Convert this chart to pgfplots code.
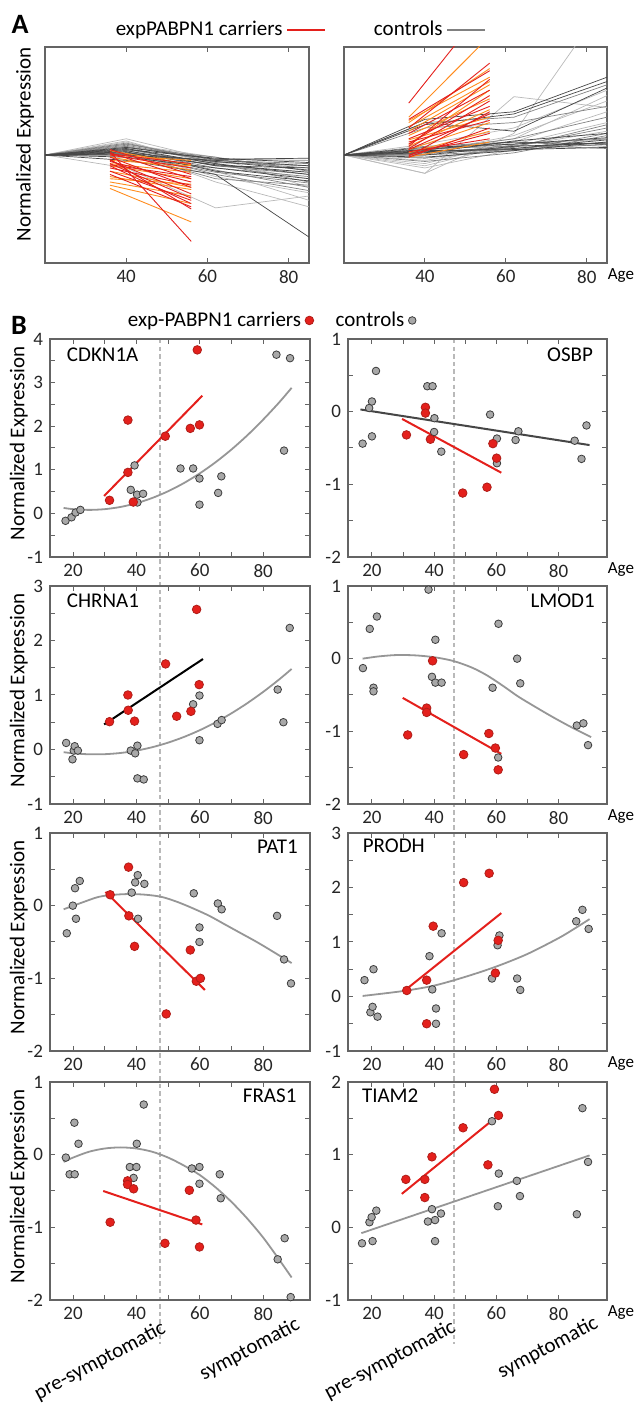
\documentclass[border=0pt]{standalone}
\usepackage{fontspec}
\setmainfont{Carlito}
\usepackage{pgfplots}
\usepackage{pgfplotstable}
\pgfplotsset{compat=1.18}

\definecolor{carrier}{RGB}{228,32,28}
\definecolor{carrieredge}{RGB}{175,30,25}
\definecolor{orng}{RGB}{255,140,30}
\definecolor{ctrl}{RGB}{168,168,168}
\definecolor{ctrledge}{RGB}{60,60,60}
\definecolor{fitgray}{RGB}{150,150,150}
\definecolor{axgray}{RGB}{100,100,100}
\definecolor{dashgray}{RGB}{185,185,185}
\definecolor{glight}{RGB}{185,185,185}
\definecolor{gmid}{RGB}{130,130,130}
\definecolor{gdark}{RGB}{70,70,70}

\newcommand{\tickfont}{\fontsize{9.5}{11}\selectfont}
\newcommand{\labfont}{\fontsize{10.5}{12}\selectfont}
\newcommand{\agefont}{\fontsize{8.5}{10}\selectfont}

\pgfplotsset{
  base/.style={scale only axis,
    axis line style={axgray, line width=0.65pt},
    tick style={axgray, line width=0.5pt},
    tick align=inside, major tick length=2.5pt, minor tick length=2.5pt,
    tick label style={font=\tickfont, text=black!85},
    /pgf/number format/assume math mode=true,
    label style={font=\labfont}},
  agelabel/.style={xlabel={Age},
    xlabel style={at={(axis description cs:1,0)}, anchor=north west,
      inner sep=0.2pt, yshift=-2.6pt, font=\agefont}},
  apanel/.style={base, width=132pt, height=108pt,
    xmin=20, xmax=85, ymin=-1, ymax=1, xtick={40,60,80}, ytick=\empty},
  bpanel/.style={base, width=130pt, height=109pt, clip=false,
    xtick={20,40,60,80}, minor x tick num=1, minor y tick num=1},
  bleft/.style={bpanel, xmin=12.7, xmax=94.8, ylabel={Normalized Expression},
    ylabel style={at={(axis description cs:-0.12,0.52)}, anchor=center}},
  bright/.style={bpanel, width=129.5pt, xmin=12.3, xmax=95.6, agelabel},
  ctrlpts/.style={only marks, mark=*, mark size=1.9pt,
    mark options={fill=ctrl, draw=ctrledge, line width=0.4pt}},
  carpts/.style={only marks, mark=*, mark size=2.15pt,
    mark options={fill=carrier, draw=carrieredge, line width=0.4pt}},
  redfit/.style={carrier, line width=1pt, no markers},
  grayfit/.style={fitgray, line width=0.9pt, no markers, smooth},
  ctl/.style={line width=0.35pt, no markers, forget plot},
}

% ---- panel A, left: controls (x = age) and carriers
\pgfplotstableread{
x  y1    y2    y3    y4    y5    y6    y7    y8
20 0     0     0     0     0     0     0     0
40 0.15  0.12  0.10  -0.12 0.08  0.05  0.13  0.03
62 -0.05 -0.08 -0.02 -0.49 -0.15 -0.25 -0.10 -0.20
85 -0.10 -0.22 -0.30 -0.38 -0.42 -0.48 -0.16 -0.35
}\ALlight
\pgfplotstableread{
x  y1    y2    y3    y4    y5    y6    y7    y8    y9    y10   y11   y12
20 0     0     0     0     0     0     0     0     0     0     0     0
40 0.10  0.08  0.06  0.05  0.04  0.02  0.09  0.00  0.07  0.03  0.11  0.01
62 -0.04 -0.06 -0.10 -0.08 -0.12 -0.14 -0.05 -0.16 -0.02 -0.18 -0.07 -0.22
85 -0.05 -0.12 -0.18 -0.25 -0.20 -0.30 -0.08 -0.26 -0.15 -0.33 -0.10 -0.28
}\ALmid
\pgfplotstableread{
x  y1    y2    y3    y4    y5    y6    y7    y8    y9    y10
20 0     0     0     0     0     0     0     0     0     0
40 0.05  0.02  0.04  -0.02 0.06  0.00  0.03  -0.05 0.01  0.07
62 -0.03 -0.06 -0.10 -0.12 -0.08 -0.05 -0.15 -0.18 -0.09 -0.04
85 -0.07 -0.14 -0.12 -0.22 -0.18 -0.10 -0.24 -0.76 -0.16 -0.03
}\ALdark
\pgfplotstableread{
x  y1    y2    y3    y4    y5    y6    y7    y8    y9    y10   y11   y12   y13   y14   y15
36 0.05  0.02  -0.02 0.00  -0.05 -0.08 0.03  -0.10 -0.12 -0.04 0.01  -0.15 -0.06 -0.18 -0.09
56 -0.18 -0.22 -0.30 -0.12 -0.36 -0.40 -0.80 -0.45 -0.28 -0.50 -0.08 -0.42 -0.25 -0.48 -0.20
}\ALred
\pgfplotstableread{
x  y1    y2    y3    y4    y5    y6    y7    y8    y9    y10   y11   y12
36 0.00  -0.02 -0.20 -0.25 -0.31 -0.05 -0.10 -0.15 -0.28 -0.08 -0.22 0.04
56 -0.05 -0.14 -0.32 -0.38 -0.62 -0.10 -0.22 -0.30 -0.45 -0.16 -0.27 -0.09
}\ALorng

% ---- panel A, right
\pgfplotstableread{
x  y1    y2    y3    y4    y5    y6    y7    y8    y9
20 0     0     0     0     0     0     0     0     0
40 -0.17 -0.17 -0.10 0.05  -0.05 0.10  -0.08 0.02  -0.12
62 0.20  0.54  0.10  0.15  0.08  0.25  0.12  0.18  0.05
85 1.43  0.44  0.30  0.55  0.22  0.60  0.40  0.50  0.15
}\ARlight
\pgfplotstableread{
x  y1    y2    y3    y4    y5    y6    y7    y8    y9    y10   y11   y12
20 0     0     0     0     0     0     0     0     0     0     0     0
40 0.02  0.05  -0.03 0.08  0.00  0.30  0.04  -0.06 0.06  0.25  0.01  0.03
62 0.05  0.10  0.06  0.12  0.04  0.35  0.15  0.02  0.08  0.30  0.09  0.07
85 0.10  0.15  0.12  0.08  0.20  0.65  0.35  0.18  0.25  0.45  0.06  0.28
}\ARmid
\pgfplotstableread{
x  y1    y2    y3    y4    y5    y6    y7    y8    y9    y10
20 0     0     0     0     0     0     0     0     0     0
40 0.33  0.28  0.03  0.05  -0.02 0.07  0.00  0.04  0.30  0.02
62 0.40  0.38  0.06  0.12  0.04  0.10  0.08  0.05  0.22  0.13
85 0.72  0.68  0.14  0.10  0.12  0.16  0.11  0.07  0.62  0.20
}\ARdark
\pgfplotstableread{
x  y1    y2    y3    y4    y5    y6    y7    y8    y9    y10   y11   y12   y13   y14
36 0.48  0.33  0.10  0.05  0.00  0.15  -0.02 0.08  0.20  0.03  0.12  -0.01 0.25  0.06
56 1.42  0.78  0.55  0.38  0.20  0.45  0.25  0.70  0.60  0.15  0.32  0.40  0.85  0.50
}\ARred
\pgfplotstableread{
x  y1    y2    y3    y4    y5    y6    y7    y8    y9    y10   y11   y12
36 0.35  0.32  0.10  0.30  0.05  0.18  0.02  -0.02 0.22  0.08  0.14  0.26
56 1.10  0.72  0.60  0.80  0.30  0.52  0.22  0.12  0.65  0.42  0.35  0.68
}\ARorng

\begin{document}
\begin{tikzpicture}
\path[use as bounding box] (0pt,0pt) rectangle (317pt,703pt);

% onset line (age ~47) through column B
\draw[dashgray, line width=0.6pt, dash pattern=on 2.2pt off 1.6pt] (80pt,533.5pt) -- (80pt,31pt);
\draw[dashgray, line width=0.6pt, dash pattern=on 2.2pt off 1.6pt] (227pt,533.5pt) -- (227pt,31pt);

\node[font=\bfseries\fontsize{14}{16}\selectfont] at (10pt,691pt) {A};
\node[font=\bfseries\fontsize{14}{16}\selectfont] at (9.5pt,540.5pt) {B};

% ================= A left
\begin{axis}[apanel, at={(22.5pt,571.5pt)},
  ylabel={Normalized Expression},
  ylabel style={at={(axis description cs:-0.076,0.55)}, anchor=center},
  legend style={at={(0.962,1.079)}, anchor=center, draw=none, fill=none,
    legend columns=2, font=\labfont},
  legend plot pos=right,
  legend image code/.code={\draw[#1] (0pt,0pt) -- (19pt,0pt);}]
\addlegendimage{carrier, line width=0.7pt}
\addlegendentry{expPABPN1 carriers}
\addlegendimage{gray, line width=0.7pt}
\addlegendentry{\hspace*{22pt}controls}
\pgfplotsinvokeforeach{1,...,8}{\addplot[ctl, glight] table[x=x,y=y#1]{\ALlight};}
\pgfplotsinvokeforeach{1,...,12}{\addplot[ctl, gmid] table[x=x,y=y#1]{\ALmid};}
\pgfplotsinvokeforeach{1,...,10}{\addplot[ctl, gdark] table[x=x,y=y#1]{\ALdark};}
\pgfplotsinvokeforeach{1,...,12}{\addplot[ctl, orng, line width=0.45pt] table[x=x,y=y#1]{\ALorng};}
\pgfplotsinvokeforeach{1,...,15}{\addplot[ctl, carrier, line width=0.45pt] table[x=x,y=y#1]{\ALred};}
\end{axis}

% ================= A right
\begin{axis}[apanel, at={(172pt,571.5pt)}, width=131.5pt, agelabel]
\pgfplotsinvokeforeach{1,...,9}{\addplot[ctl, glight] table[x=x,y=y#1]{\ARlight};}
\pgfplotsinvokeforeach{1,...,12}{\addplot[ctl, gmid] table[x=x,y=y#1]{\ARmid};}
\pgfplotsinvokeforeach{1,...,10}{\addplot[ctl, gdark] table[x=x,y=y#1]{\ARdark};}
\pgfplotsinvokeforeach{1,...,12}{\addplot[ctl, orng, line width=0.45pt] table[x=x,y=y#1]{\ARorng};}
\pgfplotsinvokeforeach{1,...,14}{\addplot[ctl, carrier, line width=0.45pt] table[x=x,y=y#1]{\ARred};}
\end{axis}

% ================= CDKN1A
\begin{axis}[bleft, at={(25pt,424.5pt)}, ymin=-1, ymax=4, ytick={-1,0,...,4},
  legend style={at={(0.846,1.085)}, anchor=center, draw=none, fill=none,
    legend columns=2, font=\labfont},
  legend plot pos=right,
  legend image code/.code={\draw[#1] plot coordinates {(3pt,0pt)};}]
\addlegendimage{carpts}
\addlegendentry{exp-PABPN1 carriers}
\addlegendimage{ctrlpts}
\addlegendentry{\hspace*{9pt}controls}
\addplot[grayfit, forget plot] coordinates {(17,0.125)(20,0.097)(25,0.08)(30,0.097)(35,0.148)(40,0.234)(45,0.354)(50,0.508)(55,0.696)(60,0.918)(65,1.174)(70,1.465)(75,1.79)(80,2.15)(85,2.54)(89,2.88)};
\addplot[redfit, forget plot] coordinates {(29.8,0.40)(60.8,2.70)};
\addplot[ctrlpts, forget plot] coordinates {(17.6,-0.17)(19.5,-0.09)(20.8,0.02)(22.3,0.08)(38.2,0.54)(39.4,1.10)(40.2,0.43)(40.3,0.25)(42.1,0.45)(53.9,1.03)(57.9,1.03)(59.9,0.80)(59.9,0.20)(65.8,0.47)(66.8,0.85)(84.2,3.64)(86.6,1.44)(88.5,3.56)};
\addplot[carpts, forget plot] coordinates {(31.5,0.30)(37.3,2.14)(37.3,0.94)(39.0,0.26)(49.1,1.77)(57.0,1.95)(59.2,3.75)(59.9,2.03)};
\node[anchor=west, font=\labfont] at (rel axis cs:0.038,0.927) {CDKN1A};
\end{axis}

% ================= OSBP
\begin{axis}[bright, at={(174pt,424.5pt)}, ymin=-2, ymax=1, ytick={-2,-1,0,1}]
\addplot[gdark, line width=1pt, no markers] coordinates {(16.3,0.03)(90,-0.46)};
\addplot[redfit] coordinates {(29.7,-0.10)(61.6,-0.84)};
\addplot[ctrlpts] coordinates {(17.0,-0.44)(19.1,0.05)(20.0,0.14)(20.0,-0.34)(21.3,0.56)(37.8,0.35)(39.5,0.35)(40.1,-0.09)(40.0,-0.28)(42.3,-0.55)(58.0,-0.04)(60.2,-0.37)(60.2,-0.71)(66.2,-0.39)(67.1,-0.27)(85.2,-0.40)(87.4,-0.65)(89.0,-0.19)};
\addplot[carpts] coordinates {(31.1,-0.32)(37.2,0.06)(37.2,-0.02)(38.8,-0.38)(49.2,-1.12)(57.0,-1.04)(58.9,-0.44)(60.1,-0.64)};
\node[anchor=east, font=\labfont] at (rel axis cs:0.973,0.927) {OSBP};
\end{axis}

% ================= CHRNA1
\begin{axis}[bleft, at={(25pt,301pt)}, ymin=-1, ymax=3, ytick={-1,0,...,3}]
\addplot[grayfit] coordinates {(17,-0.049)(20,-0.07)(25,-0.088)(30,-0.086)(35,-0.064)(40,-0.021)(45,0.042)(50,0.126)(55,0.23)(60,0.354)(65,0.499)(70,0.664)(75,0.85)(80,1.056)(85,1.282)(89,1.478)};
\addplot[black, line width=1pt, no markers] coordinates {(29.8,0.46)(61.0,1.66)};
\addplot[ctrlpts] coordinates {(17.8,0.12)(19.8,-0.18)(20.2,-0.02)(20.5,0.06)(21.5,-0.02)(38.2,-0.02)(39.6,-0.07)(40.3,0.07)(40.3,-0.53)(42.3,-0.55)(57.9,0.83)(59.9,0.99)(59.9,0.17)(65.6,0.47)(66.9,0.54)(84.6,1.10)(86.4,0.50)(88.4,2.23)};
\addplot[carpts] coordinates {(31.5,0.51)(37.3,1.00)(37.4,0.72)(39.4,0.52)(49.2,1.57)(52.7,0.61)(57.2,0.70)(59.0,2.57)(59.8,1.19)};
\node[anchor=west, font=\labfont] at (rel axis cs:0.038,0.93) {CHRNA1};
\end{axis}

% ================= LMOD1
\begin{axis}[bright, at={(174pt,301pt)}, ymin=-2, ymax=1, ytick={-2,-1,0,1}]
\addplot[grayfit] coordinates {(17,0.0)(22,0.03)(28,0.05)(34,0.045)(40,0.02)(46,-0.03)(52,-0.12)(57,-0.23)(62,-0.37)(67,-0.52)(72,-0.65)(78,-0.80)(84,-0.94)(90.5,-1.08)};
\addplot[redfit] coordinates {(29.9,-0.54)(61.6,-1.31)};
\addplot[ctrlpts] coordinates {(17.1,-0.13)(19.3,0.41)(20.5,-0.40)(20.5,-0.45)(21.6,0.58)(38.2,0.95)(39.3,-0.25)(40.4,0.26)(40.4,-0.33)(42.4,-0.33)(58.8,-0.40)(60.6,-1.36)(60.7,0.48)(66.7,0.0)(67.7,-0.34)(85.9,-0.92)(88.0,-0.89)(89.5,-1.19)};
\addplot[carpts] coordinates {(31.5,-1.05)(37.6,-0.68)(37.6,-0.74)(39.5,-0.03)(49.5,-1.32)(57.6,-1.03)(59.7,-1.23)(60.6,-1.53)};
\node[anchor=east, font=\labfont] at (rel axis cs:0.98,0.93) {LMOD1};
\end{axis}

% ================= PAT1
\begin{axis}[bleft, at={(25pt,177.5pt)}, ymin=-2, ymax=1, ytick={-2,-1,0,1}]
\addplot[grayfit] coordinates {(17,-0.05)(22,0.03)(28,0.12)(33,0.15)(38,0.16)(43,0.15)(48,0.12)(53,0.05)(58,-0.04)(63,-0.14)(68,-0.26)(73,-0.38)(78,-0.50)(83,-0.63)(89,-0.79)};
\addplot[redfit] coordinates {(30.2,0.19)(61.6,-1.16)};
\addplot[ctrlpts] coordinates {(18.0,-0.38)(19.9,0.0)(20.6,0.24)(20.9,-0.18)(22.1,0.34)(38.5,0.18)(39.6,0.32)(40.4,0.42)(40.5,-0.18)(42.5,0.30)(58.1,0.17)(59.9,-0.30)(59.9,-0.50)(65.7,0.03)(66.9,-0.05)(84.4,-0.14)(86.6,-0.74)(88.8,-1.07)};
\addplot[carpts] coordinates {(31.7,0.15)(37.5,0.53)(37.6,-0.14)(39.4,-0.56)(49.4,-1.49)(57.0,-0.61)(58.9,-1.04)(60.2,-1.00)};
\node[anchor=east, font=\labfont] at (rel axis cs:0.98,0.935) {PAT1};
\end{axis}

% ================= PRODH
\begin{axis}[bright, at={(174pt,177.5pt)}, ymin=-1, ymax=3, ytick={-1,0,...,3}]
\addplot[grayfit] coordinates {(17,0.01)(30,0.10)(40,0.20)(50,0.36)(60,0.55)(70,0.78)(80,1.07)(85,1.24)(90,1.42)};
\addplot[redfit] coordinates {(30.1,0.09)(61.6,1.53)};
\addplot[ctrlpts] coordinates {(17.6,0.30)(19.5,-0.29)(20.2,-0.19)(20.5,0.50)(21.8,-0.37)(38.5,0.74)(39.4,0.13)(40.6,-0.22)(40.6,-0.50)(42.4,1.16)(58.6,0.33)(60.4,0.94)(61.0,1.12)(66.7,0.33)(67.7,0.12)(85.7,1.38)(87.7,1.59)(89.7,1.24)};
\addplot[carpts] coordinates {(31.2,0.11)(37.6,0.30)(37.6,-0.50)(39.7,1.29)(49.5,2.09)(57.7,2.26)(59.7,0.43)(60.6,1.03)};
\node[anchor=west, font=\labfont] at (rel axis cs:0.03,0.94) {PRODH};
\end{axis}

% ================= FRAS1
\begin{axis}[bleft, at={(25pt,53pt)}, ymin=-2, ymax=1, ytick={-2,-1,0,1}]
\addplot[grayfit] coordinates {(17,-0.10)(20,-0.04)(25,0.04)(30,0.085)(35,0.10)(40,0.085)(45,0.04)(50,-0.04)(55,-0.15)(60,-0.28)(65,-0.45)(70,-0.65)(75,-0.88)(80,-1.14)(85,-1.44)(89,-1.69)};
\addplot[redfit] coordinates {(29.5,-0.50)(60.8,-0.96)};
\addplot[ctrlpts] coordinates {(17.7,-0.04)(18.9,-0.27)(20.4,0.44)(20.5,-0.27)(21.7,0.15)(37.9,-0.17)(39.1,-0.32)(40.0,-0.17)(40.1,0.15)(42.3,0.69)(57.5,-0.19)(59.9,-0.17)(59.9,-0.40)(66.3,-0.27)(66.6,-0.60)(84.6,-1.44)(86.8,-1.15)(88.7,-1.96)};
\addplot[carpts] coordinates {(31.7,-0.93)(37.2,-0.36)(37.2,-0.41)(39.1,-0.47)(49.0,-1.22)(56.7,-0.49)(58.8,-0.90)(59.9,-1.27)};
\node[anchor=east, font=\labfont] at (rel axis cs:0.975,0.935) {FRAS1};
\node[rotate=28, font=\labfont] at (axis cs:28.5,-2.84) {pre-symptomatic};
\node[rotate=28, font=\labfont] at (axis cs:75.8,-2.68) {symptomatic};
\end{axis}

% ================= TIAM2
\begin{axis}[bright, at={(174pt,53pt)}, ymin=-1, ymax=2, ytick={-1,0,1,2}]
\addplot[fitgray, line width=0.9pt, no markers] coordinates {(16.6,-0.08)(90,0.99)};
\addplot[redfit] coordinates {(29.6,0.46)(58.9,1.48)};
\addplot[ctrlpts] coordinates {(16.8,-0.22)(19.2,0.07)(19.9,0.14)(20.2,-0.19)(21.4,0.23)(38.0,0.08)(39.3,0.25)(40.3,0.10)(40.3,-0.19)(42.2,0.19)(58.6,1.46)(60.5,0.29)(60.8,0.74)(66.6,0.64)(67.6,0.43)(85.9,0.18)(87.7,1.64)(89.5,0.90)};
\addplot[carpts] coordinates {(30.9,0.66)(37.0,0.66)(37.0,0.41)(39.3,0.97)(49.3,1.37)(57.3,0.86)(59.4,1.90)(60.7,1.54)};
\node[anchor=west, font=\labfont] at (rel axis cs:0.027,0.935) {TIAM2};
\node[rotate=28, font=\labfont] at (axis cs:25.8,-1.83) {pre-symptomatic};
\node[rotate=28, font=\labfont] at (axis cs:76.6,-1.66) {symptomatic};
\end{axis}
\end{tikzpicture}
\end{document}
